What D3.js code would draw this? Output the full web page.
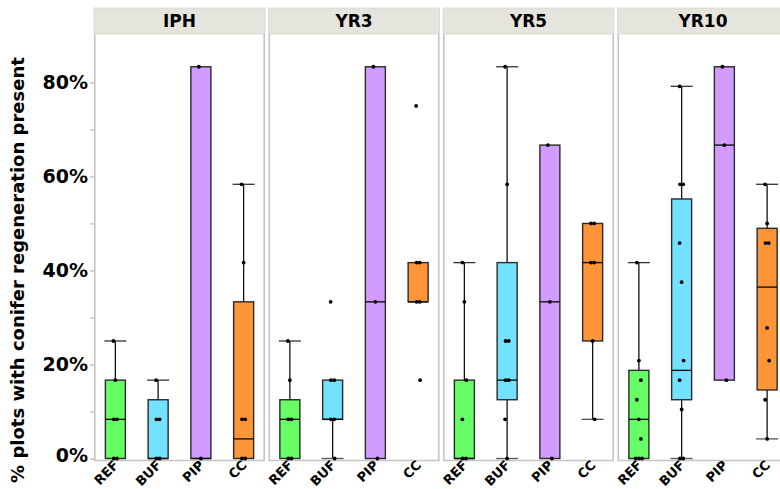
<!DOCTYPE html>
<html>
<head>
<meta charset="utf-8">
<script src="https://cdn.jsdelivr.net/npm/d3@7"></script>
<style>
  html, body { margin: 0; padding: 0; background: #fff; }
  svg { display: block; font-family: "DejaVu Sans", Verdana, sans-serif; }
</style>
</head>
<body>
<svg id="chart" width="780" height="489"></svg>
<script>
// Facets (time since harvest) and treatments
const periods = ["IPH", "YR3", "YR5", "YR10"];
const treatments = ["REF", "BUF", "PIP", "CC"];
const treatmentColors = ["#66FF66", "#73E2FF", "#D39AFF", "#FF9538"];
const yTicks = [0, 0.2, 0.4, 0.6, 0.8];

// Box statistics per period, one entry per treatment: [whiskerLow, q1, median, q3, whiskerHigh]
const statsIPH  = [[0, 0, 0.0833, 0.1667, 0.25], [0, 0, 0, 0.125, 0.1667], [0, 0, 0, 0.8333, 0.8333], [0, 0, 0.0417, 0.3333, 0.5833]];
const statsYR3  = [[0, 0, 0.0833, 0.125, 0.25], [0, 0.0833, 0.0833, 0.1667, 0.1667], [0, 0, 0.3333, 0.8333, 0.8333], [0.3333, 0.3333, 0.3333, 0.4167, 0.4167]];
const statsYR5  = [[0, 0, 0, 0.1667, 0.4167], [0, 0.125, 0.1667, 0.4167, 0.8333], [0, 0, 0.3333, 0.6667, 0.6667], [0.0833, 0.25, 0.4167, 0.5, 0.5]];
const statsYR10 = [[0, 0, 0.0833, 0.1875, 0.4167], [0, 0.125, 0.1875, 0.5521, 0.7917], [0.1667, 0.1667, 0.6667, 0.8333, 0.8333], [0.0417, 0.1458, 0.3646, 0.4896, 0.5833]];

// Observed proportions per period and treatment
const obsIPH  = [[0.25, 0.1667, 0.0833, 0.0833, 0, 0], [0.1667, 0.0833, 0.0833, 0, 0], [0.8333, 0], [0.5833, 0.4167, 0.0833, 0.0833, 0, 0]];
const obsYR3  = [[0.25, 0.1667, 0.0833, 0.0833, 0, 0], [0.3333, 0.1667, 0.1667, 0.0833, 0.0833, 0], [0.8333, 0.3333, 0], [0.75, 0.4167, 0.4167, 0.3333, 0.3333, 0.1667]];
const obsYR5  = [[0.4167, 0.3333, 0.1667, 0.0833, 0, 0], [0.8333, 0.5833, 0.25, 0.25, 0.1667, 0.1667, 0.0833, 0], [0.6667, 0.3333, 0], [0.5, 0.5, 0.4167, 0.4167, 0.25, 0.0833]];
const obsYR10 = [[0.4167, 0.2083, 0.1667, 0.125, 0.0833, 0.0417, 0, 0, 0], [0.7917, 0.5833, 0.5833, 0.4583, 0.375, 0.2083, 0.1667, 0.1042, 0, 0], [0.8333, 0.6667, 0.1667], [0.5833, 0.5, 0.4583, 0.4583, 0.2778, 0.2083, 0.125, 0.0417]];

const allStats = [statsIPH, statsYR3, statsYR5, statsYR10];
const allObs = [obsIPH, obsYR3, obsYR5, obsYR10];

const svg = d3.select("#chart");

const panelLeft = 94, panelW = 171, panelGap = 3.5;
const stripTop = 8, stripBottom = 34, plotBottom = 460;

const y = d3.scaleLinear().domain([0, 0.903]).range([458.5, stripBottom]);
const facetX = d3.scaleBand().domain(periods).range([panelLeft, panelLeft + 4 * panelW + 3 * panelGap]).paddingInner(panelGap / (panelW + panelGap));
const x = d3.scaleBand().domain(treatments).range([0, panelW]).padding(0);
const color = d3.scaleOrdinal().domain(treatments).range(treatmentColors);
const boxW = 20;

// Y axis: minor ticks every 10 %, labels every 20 %
const yAxis = d3.axisLeft(y)
  .tickValues(d3.range(0, 0.9, 0.1))
  .tickSize(4)
  .tickFormat(() => "");
const gy = svg.append("g").attr("transform", `translate(${panelLeft},0)`).call(yAxis);
gy.select(".domain").remove();
gy.selectAll(".tick line").attr("stroke", "#b8b8b8").attr("stroke-width", 1.2);

svg.append("g").selectAll("text").data(yTicks).join("text")
  .attr("x", panelLeft - 6)
  .attr("y", d => y(d) - (d === 0 ? 3 : 0))
  .attr("dy", "0.36em")
  .attr("text-anchor", "end")
  .attr("font-size", 19)
  .attr("font-weight", "bold")
  .text(d => d3.format(".0%")(d));

svg.append("text")
  .attr("transform", "translate(24,270) rotate(-90)")
  .attr("text-anchor", "middle")
  .attr("font-size", 18)
  .attr("font-weight", "bold")
  .text("% plots with conifer regeneration present");

periods.forEach((p, pi) => {
  const g = svg.append("g").attr("transform", `translate(${facetX(p)},0)`);

  // strip
  g.append("rect")
    .attr("x", 0).attr("y", stripTop)
    .attr("width", panelW).attr("height", stripBottom - stripTop)
    .attr("fill", "#E6E5DD").attr("stroke", "#d6d6d0").attr("stroke-width", 0.8);
  g.append("text")
    .attr("x", panelW / 2).attr("y", (stripTop + stripBottom) / 2)
    .attr("dy", "0.36em")
    .attr("text-anchor", "middle")
    .attr("font-size", 17)
    .attr("font-weight", "bold")
    .text(p);

  // panel frame
  g.append("line").attr("x1", 0.8).attr("x2", 0.8).attr("y1", stripBottom).attr("y2", plotBottom + 1)
    .attr("stroke", "#c4c4c4").attr("stroke-width", 1.6);
  g.append("line").attr("x1", panelW - 0.8).attr("x2", panelW - 0.8).attr("y1", stripBottom).attr("y2", plotBottom + 1)
    .attr("stroke", "#c4c4c4").attr("stroke-width", 1.6);
  g.append("line").attr("x1", 0).attr("x2", panelW).attr("y1", plotBottom + 0.5).attr("y2", plotBottom + 0.5)
    .attr("stroke", "#c4c4c4").attr("stroke-width", 1.6);

  treatments.forEach((t, ti) => {
    const [lo, q1, med, q3, hi] = allStats[pi][ti];
    const cx = x(t) + x.bandwidth() / 2;
    const bg = g.append("g");

    // whiskers and caps
    if (hi > q3) {
      bg.append("line").attr("x1", cx).attr("x2", cx).attr("y1", y(q3)).attr("y2", y(hi))
        .attr("stroke", "#111").attr("stroke-width", 1.3);
      bg.append("line").attr("x1", cx - boxW / 2 - 1).attr("x2", cx + boxW / 2 + 1).attr("y1", y(hi)).attr("y2", y(hi))
        .attr("stroke", "#333").attr("stroke-width", 1.3);
    }
    if (lo < q1) {
      bg.append("line").attr("x1", cx).attr("x2", cx).attr("y1", y(q1)).attr("y2", y(lo))
        .attr("stroke", "#111").attr("stroke-width", 1.3);
      bg.append("line").attr("x1", cx - boxW / 2 - 1).attr("x2", cx + boxW / 2 + 1).attr("y1", y(lo)).attr("y2", y(lo))
        .attr("stroke", "#555").attr("stroke-width", 1.3);
    }
    // box
    bg.append("rect")
      .attr("x", cx - boxW / 2).attr("y", y(q3))
      .attr("width", boxW).attr("height", Math.max(0, y(q1) - y(q3)))
      .attr("fill", color(t)).attr("stroke", "#2a2a2a").attr("stroke-width", 1.4);
    bg.append("line").attr("x1", cx - boxW / 2).attr("x2", cx + boxW / 2).attr("y1", y(med)).attr("y2", y(med))
      .attr("stroke", "#111").attr("stroke-width", 1.4);

    // observations, tied values spread side by side
    const obs = allObs[pi][ti];
    const counts = d3.rollup(obs, v => v.length, d => d);
    const seen = new Map();
    const pts = obs.map((v, i) => {
      const k = counts.get(v);
      const j = seen.get(v) || 0;
      seen.set(v, j + 1);
      const shift = k > 1 ? (j - (k - 1) / 2) * 3.2 : ((i % 3) - 1) * 2;
      return { v, dx: shift };
    });
    bg.selectAll("circle").data(pts).join("circle")
      .attr("cx", d => cx + d.dx)
      .attr("cy", d => y(d.v))
      .attr("r", 1.9)
      .attr("fill", "#000");
  });

  // rotated treatment labels
  g.selectAll("text.tl").data(treatments).join("text")
    .attr("class", "tl")
    .attr("text-anchor", "end")
    .attr("font-size", 13)
    .attr("font-weight", "bold")
    .attr("transform", d => `translate(${x(d) + x.bandwidth() / 2 + 4},${plotBottom + 6}) rotate(-45)`)
    .text(d => d);
});
</script>
</body>
</html>
